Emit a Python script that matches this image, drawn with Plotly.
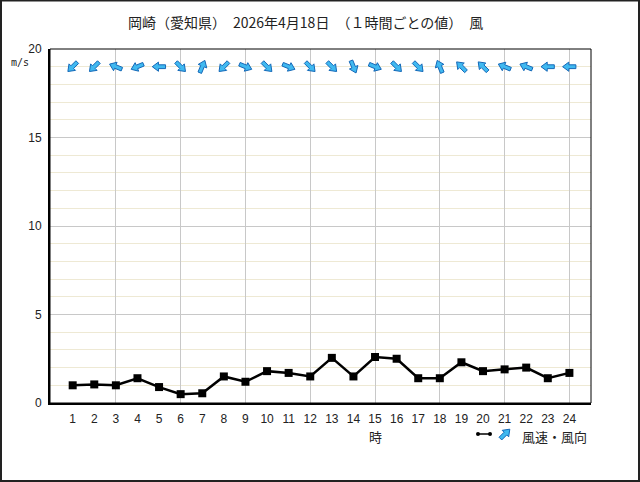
import math
import plotly.graph_objects as go

# ---- data ----
hours = list(range(1, 25))
speed = [1.0, 1.05, 1.0, 1.4, 0.9, 0.5, 0.55, 1.5, 1.2, 1.8, 1.7, 1.5,
         2.55, 1.5, 2.6, 2.5, 1.4, 1.4, 2.3, 1.8, 1.9, 2.0, 1.4, 1.7]
# direction the arrow points to (degrees clockwise from north)
arrow_dir = [225, 225, 292.5, 247.5, 270, 135, 22.5, 225, 112.5, 135, 112.5, 135,
             135, 157.5, 112.5, 135, 135, 337.5, 315, 315, 292.5, 292.5, 270, 270]
ytick_vals = [0, 5, 10, 15, 20]
xgrid_vals = [3, 6, 9, 12, 15, 18, 21, 24]
title_text = "岡崎（愛知県）　2026年4月18日　（１時間ごとの値）　風"
legend_text = "風速・風向"
unit_text = "m/s"
xlabel_text = "時"

W, H = 640, 482
L, R, T, B = 50, 49, 49, 79
PW, PH = W - L - R, H - T - B
XR = [-0.05, 25.0]
YR = [0, 20]
pxx = PW / (XR[1] - XR[0])
pxy = PH / (YR[1] - YR[0])

ARROW_FILL = "#40b9f0"
ARROW_EDGE = "#1468b8"
# block-arrow outline in local pixels (u right, v forward)
ARROW_LOCAL = [(0, 6.8), (4.6, 0.6), (1.9, 0.6), (1.9, -6.5), (-1.9, -6.5),
               (-1.9, 0.6), (-4.6, 0.6), (0, 6.8)]


def arrow_px(deg):
    t = math.radians(deg)
    c, s = math.cos(t), math.sin(t)
    return [(u * c + v * s, -u * s + v * c) for u, v in ARROW_LOCAL]  # (x right, y up)


def px(X):
    return (X - L) / PW


def py(Y):
    return (H - B - Y) / PH


fig = go.Figure()
fig.add_trace(go.Scatter(
    x=hours, y=speed, xaxis="x2", yaxis="y", mode="lines+markers",
    line=dict(color="black", width=2.5),
    marker=dict(symbol="square", size=8, color="black"),
    showlegend=False, hoverinfo="skip"))

ARROW_Y = 19
ax_list, ay_list = [], []
for h, d in zip(hours, arrow_dir):
    for wx, wy in arrow_px(d):
        ax_list.append(h + wx / pxx)
        ay_list.append(ARROW_Y + wy / pxy)
    ax_list.append(None)
    ay_list.append(None)
fig.add_trace(go.Scatter(
    x=ax_list, y=ay_list, xaxis="x", yaxis="y", mode="lines", fill="toself",
    fillcolor=ARROW_FILL, line=dict(color=ARROW_EDGE, width=1),
    showlegend=False, hoverinfo="skip"))

annotations = []
# title
annotations.append(dict(x=px(305), y=py(22), xref="paper", yref="paper", text=title_text,
                        showarrow=False, xanchor="center", yanchor="middle",
                        font=dict(family="Noto Sans CJK JP", size=14, color="#222")))
# unit
annotations.append(dict(x=px(20), y=py(62), xref="paper", yref="paper", text=unit_text,
                        showarrow=False, xanchor="center", yanchor="middle",
                        font=dict(family="DejaVu Sans Mono", size=10, color="#222")))
# x label
annotations.append(dict(x=15, y=py(436), xref="x", yref="paper", text=xlabel_text,
                        showarrow=False, xanchor="center", yanchor="middle",
                        font=dict(family="Noto Sans CJK JP", size=13, color="#222")))
# legend text
annotations.append(dict(x=px(520), y=py(437), xref="paper", yref="paper", text=legend_text,
                        showarrow=False, xanchor="left", yanchor="middle",
                        font=dict(family="Noto Sans CJK JP", size=13, color="#222")))

# legend arrow as path in paper coords
LEG_CX, LEG_CY = 505, 434
pts = arrow_px(45)
path = "M" + " L".join(f"{px(LEG_CX + wx):.5f},{py(LEG_CY - wy):.5f}" for wx, wy in pts) + " Z"

shapes = [
    # plot frame
    dict(type="rect", xref="paper", yref="paper", x0=0, x1=1, y0=0, y1=1,
         line=dict(color="black", width=1), layer="above"),
    # outer border
    dict(type="rect", xref="paper", yref="paper", x0=px(1), x1=px(639), y0=py(481), y1=py(0.5),
         line=dict(color="#222", width=2)),
    # legend line icon
    dict(type="line", xref="paper", yref="paper", x0=px(478), x1=px(490), y0=py(434), y1=py(434),
         line=dict(color="black", width=1.5)),
    dict(type="circle", xref="paper", yref="paper", x0=px(476), x1=px(480), y0=py(436), y1=py(432),
         fillcolor="black", line=dict(color="black", width=0)),
    dict(type="circle", xref="paper", yref="paper", x0=px(488), x1=px(492), y0=py(436), y1=py(432),
         fillcolor="black", line=dict(color="black", width=0)),
    dict(type="path", xref="paper", yref="paper", path=path, fillcolor=ARROW_FILL,
         line=dict(color=ARROW_EDGE, width=1)),
]

tickfont = dict(family="Liberation Sans", size=12, color="#222")
fig.update_layout(
    width=W, height=H, margin=dict(l=L, r=R, t=T, b=B),
    paper_bgcolor="white", plot_bgcolor="white",
    xaxis=dict(range=XR, tickvals=xgrid_vals, showticklabels=False, showgrid=True,
               gridcolor="#c8c8c8", gridwidth=1, zeroline=False, showline=True,
               linecolor="black", linewidth=2, ticks=""),
    xaxis2=dict(range=XR, overlaying="x", side="bottom", anchor="y", tickvals=hours,
                showgrid=False, zeroline=False, showline=False, ticks="",
                tickfont=tickfont, ticklabelstandoff=7),
    yaxis=dict(range=YR, tickvals=ytick_vals, showgrid=True, gridcolor="#c8c8c8",
               zeroline=False, showline=True, linecolor="black", linewidth=2, ticks="",
               tickfont=tickfont, ticklabelstandoff=4,
               minor=dict(dtick=1, tick0=0, showgrid=True, gridcolor="#eee9d4", ticks="")),
    annotations=annotations, shapes=shapes, showlegend=False,
)

fig.write_html("out.html")
